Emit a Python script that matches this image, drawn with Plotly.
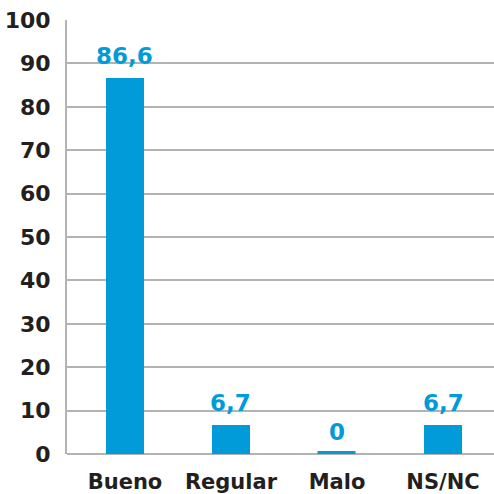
import plotly.graph_objects as go

categories = ["Bueno", "Regular", "Malo", "NS/NC"]
values = [86.6, 6.7, 0, 6.7]
labels = ["86,6", "6,7", "0", "6,7"]
y_ticks = [0, 10, 20, 30, 40, 50, 60, 70, 80, 90, 100]

BLUE = "#009BD8"
DARK = "#231F20"
GRID = "#B3B3B3"
FONT = "DejaVu Sans"

fig = go.Figure()
fig.add_trace(go.Bar(
    x=list(range(len(categories))),
    y=values,
    width=0.36,
    marker=dict(color=BLUE, line=dict(color=BLUE, width=[0, 0, 5, 0])),
    hoverinfo="skip",
))

for i, (v, t) in enumerate(zip(values, labels)):
    fig.add_annotation(
        x=i, y=v, text=f"<b>{t}</b>", showarrow=False,
        yanchor="bottom", yshift=7,
        font=dict(family=FONT, size=23, color=BLUE),
    )

fig.update_layout(
    width=494, height=494,
    margin=dict(l=67, r=0, t=20, b=40),
    plot_bgcolor="white", paper_bgcolor="white",
    showlegend=False,
    bargap=0,
)
fig.update_xaxes(
    range=[-0.547, 3.481],
    tickvals=list(range(len(categories))),
    ticktext=[f"<b>{c}</b>" for c in categories],
    tickfont=dict(family=FONT, size=21, color=DARK),
    showgrid=False, zeroline=False,
    showline=False, ticks="", ticklabelstandoff=13,
    automargin=False,
)
fig.update_yaxes(
    range=[0, 100],
    tickvals=y_ticks,
    ticktext=[f"<b>{v}</b>" for v in y_ticks],
    tickfont=dict(family=FONT, size=22, color=DARK),
    showgrid=True, gridcolor=GRID, gridwidth=2,
    zeroline=True, zerolinecolor=GRID, zerolinewidth=2,
    showline=True, linecolor=GRID, linewidth=2,
    ticks="", ticklabelstandoff=10,
    automargin=False,
)

fig.write_html(
    "out.html",
    config={"displayModeBar": False},
    post_script="document.body.style.margin='0';document.body.style.overflow='hidden';",
)
